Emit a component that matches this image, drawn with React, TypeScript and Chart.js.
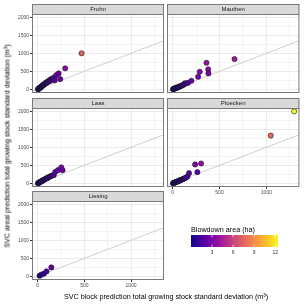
import React, { useEffect, useRef } from "react";
import { Chart, registerables } from "chart.js";

Chart.register(...registerables);

const FONT = '"Liberation Sans", Arimo, Arial, Helvetica, sans-serif';

// ---------- data (SD in m3, blowdown area in ha) ----------
const frohnBlockSD = [4, 8, 12, 15, 20, 24, 28, 32, 38, 42, 48, 52, 58, 62, 68, 72, 78, 85, 90, 95, 102, 110, 118, 125, 132, 140, 150, 158, 165, 175, 183, 200, 225, 242, 295, 470];
const frohnArealSD = [6, 18, 14, 30, 38, 50, 45, 62, 70, 85, 90, 108, 112, 130, 128, 150, 160, 165, 190, 178, 200, 215, 235, 225, 265, 250, 290, 300, 285, 330, 250, 397, 444, 286, 583, 1000];
const frohnArea = [0.1, 0.2, 0.2, 0.3, 0.3, 0.4, 0.4, 0.5, 0.5, 0.6, 0.6, 0.7, 0.7, 0.8, 0.8, 0.9, 0.9, 1.0, 1.1, 1.1, 1.2, 1.3, 1.4, 1.4, 1.6, 1.6, 1.8, 1.9, 1.9, 2.1, 2.0, 2.3, 2.6, 2.4, 3.6, 7.4];

const mauthenBlockSD = [4, 10, 15, 20, 26, 32, 38, 45, 52, 60, 68, 75, 85, 95, 108, 120, 129, 145, 165, 200, 272, 289, 379, 382, 361, 660];
const mauthenArealSD = [5, 12, 22, 18, 30, 40, 35, 50, 60, 55, 70, 85, 92, 100, 118, 135, 167, 170, 183, 239, 350, 489, 556, 444, 739, 842];
const mauthenArea = [0.1, 0.2, 0.2, 0.3, 0.3, 0.4, 0.4, 0.5, 0.6, 0.6, 0.7, 0.8, 0.9, 1.0, 1.1, 1.2, 1.4, 1.5, 1.9, 2.4, 2.8, 3.5, 3.4, 3.0, 4.0, 4.2];

const laasBlockSD = [4, 10, 15, 20, 26, 32, 38, 45, 52, 58, 65, 72, 80, 88, 95, 105, 112, 125, 135, 145, 160, 173, 190, 218, 253, 267];
const laasArealSD = [5, 12, 22, 30, 35, 48, 55, 62, 78, 85, 92, 108, 115, 128, 140, 150, 168, 175, 195, 205, 225, 229, 320, 367, 442, 367];
const laasArea = [0.1, 0.2, 0.2, 0.3, 0.3, 0.4, 0.5, 0.5, 0.6, 0.7, 0.7, 0.8, 0.9, 1.0, 1.0, 1.1, 1.2, 1.3, 1.4, 1.5, 1.6, 1.8, 2.2, 2.4, 3.2, 2.6];

const ploeckenBlockSD = [4, 10, 15, 22, 28, 35, 42, 50, 58, 65, 72, 80, 90, 100, 110, 120, 132, 145, 158, 175, 264, 240, 304, 1046, 1296];
const ploeckenArealSD = [5, 10, 20, 18, 30, 35, 45, 50, 62, 70, 75, 88, 95, 110, 118, 130, 150, 165, 190, 284, 312, 525, 552, 1326, 1997];
const ploeckenArea = [0.1, 0.2, 0.2, 0.3, 0.3, 0.4, 0.5, 0.5, 0.6, 0.7, 0.7, 0.8, 0.9, 1.0, 1.1, 1.2, 1.3, 1.5, 1.6, 1.8, 1.8, 3.3, 3.8, 7.5, 12.3];

const liesingBlockSD = [21, 40, 67, 95, 147];
const liesingArealSD = [19, 50, 75, 138, 249];
const liesingArea = [0.4, 0.6, 0.8, 1.2, 2.4];

const xTickValues = [0, 250, 500, 750, 1000, 1250];
const yTickValues = [0, 250, 500, 750, 1000, 1250, 1500, 1750, 2000];
const colorbarTicks = [3, 6, 9, 12];

const X_MIN = -60;
const X_MAX = 1352;
const Y_MIN = -100;
const Y_MAX = 2090;
const AREA_MIN = 0.02;
const AREA_MAX = 12.38;
const oneToOne = [X_MIN, X_MAX];

// ---------- layout ----------
const COL_LEFT = [32, 167];
const COL_RIGHT = [164, 300];
const ROW_TOP = [14, 108, 201];
const ROW_BOTTOM = [93, 187, 280];
const STRIP_H = 10;
const X_AXIS_H = 10;
const Y_AXIS_W = 32;
const TICK_FONT = 5;
const BORDER = "#7a7a7a";

const PLASMA = ["#0d0887", "#41049d", "#6a00a8", "#8f0da4", "#b12a90", "#cc4778", "#e16462", "#f2844b", "#fca636", "#fcce25", "#f0f921"];

function hexToRgb(h: string) {
  const n = parseInt(h.slice(1), 16);
  return [(n >> 16) & 255, (n >> 8) & 255, n & 255];
}
function plasmaAt(t: number) {
  const c = Math.max(0, Math.min(1, t)) * (PLASMA.length - 1);
  const i = Math.min(PLASMA.length - 2, Math.floor(c));
  const f = c - i;
  const a = hexToRgb(PLASMA[i]);
  const b = hexToRgb(PLASMA[i + 1]);
  const m = a.map((v, k) => Math.round(v + (b[k] - v) * f));
  return `rgb(${m[0]},${m[1]},${m[2]})`;
}
function areaColor(v: number) {
  return plasmaAt((v - AREA_MIN) / (AREA_MAX - AREA_MIN));
}

type Panel = {
  name: string;
  xs: number[];
  ys: number[];
  area: number[];
  col: number;
  row: number;
  showX: boolean;
};

const panels: Panel[] = [
  { name: "Frohn", xs: frohnBlockSD, ys: frohnArealSD, area: frohnArea, col: 0, row: 0, showX: false },
  { name: "Mauthen", xs: mauthenBlockSD, ys: mauthenArealSD, area: mauthenArea, col: 1, row: 0, showX: false },
  { name: "Laas", xs: laasBlockSD, ys: laasArealSD, area: laasArea, col: 0, row: 1, showX: false },
  { name: "Ploecken", xs: ploeckenBlockSD, ys: ploeckenArealSD, area: ploeckenArea, col: 1, row: 1, showX: true },
  { name: "Liesing", xs: liesingBlockSD, ys: liesingArealSD, area: liesingArea, col: 0, row: 2, showX: true },
];

const canvasStyle: React.CSSProperties = { position: "absolute", left: 0, top: 0, width: 304, height: 304 };

function PanelChart({ p }: { p: Panel }) {
  const ref = useRef<HTMLCanvasElement | null>(null);
  useEffect(() => {
    if (!ref.current) return;
    const showY = p.col === 0;
    const stripPlugin = {
      id: "strip" + p.name,
      afterDraw(chart: any) {
        const { ctx, chartArea: a } = chart;
        ctx.save();
        ctx.fillStyle = "#D9D9D9";
        ctx.fillRect(a.left, a.top - STRIP_H, a.right - a.left, STRIP_H);
        ctx.strokeStyle = BORDER;
        ctx.lineWidth = 1;
        ctx.strokeRect(a.left + 0.5, a.top - STRIP_H + 0.5, a.right - a.left - 1, STRIP_H);
        ctx.strokeRect(a.left + 0.5, a.top + 0.5, a.right - a.left - 1, a.bottom - a.top - 1);
        ctx.fillStyle = "#1A1A1A";
        ctx.font = `6px ${FONT}`;
        ctx.textAlign = "center";
        ctx.textBaseline = "middle";
        ctx.fillText(p.name, (a.left + a.right) / 2, a.top - STRIP_H / 2 + 0.5);
        ctx.restore();
      },
    };
    const gridColor = (c: any) => (c.tick && c.tick.value % 500 === 0 ? "#EBEBEB" : "#F4F4F4");
    const tickColor = (c: any) => (c.tick && c.tick.value % 500 === 0 ? "#333333" : "rgba(0,0,0,0)");
    const chart = new Chart(ref.current, {
      type: "scatter",
      data: {
        datasets: [
          {
            type: "line",
            data: oneToOne.map((v) => ({ x: v, y: v })),
            borderColor: "#C4C4C4",
            borderWidth: 0.8,
            pointRadius: 0,
            order: 2,
          } as any,
          {
            data: p.xs.map((x, i) => ({ x, y: p.ys[i] })),
            backgroundColor: p.area.map(areaColor),
            borderColor: "#1a1a1a",
            borderWidth: 0.6,
            pointRadius: 2.6,
            order: 1,
          },
        ],
      },
      options: {
        animation: false,
        responsive: false,
        events: [],
        layout: {
          padding: {
            left: showY ? COL_LEFT[0] - Y_AXIS_W : COL_LEFT[1],
            right: 304 - COL_RIGHT[p.col],
            top: ROW_TOP[p.row],
            bottom: 304 - ROW_BOTTOM[p.row] - (p.showX ? X_AXIS_H : 0),
          },
        },
        plugins: { legend: { display: false }, tooltip: { enabled: false }, title: { display: false } },
        scales: {
          x: {
            type: "linear",
            min: X_MIN,
            max: X_MAX,
            afterBuildTicks: (s: any) => {
              s.ticks = xTickValues.map((v) => ({ value: v }));
            },
            afterFit: (s: any) => {
              s.height = p.showX ? X_AXIS_H : 0;
              s.paddingLeft = 0;
              s.paddingRight = 0;
            },
            ticks: {
              display: p.showX,
              autoSkip: false,
              maxRotation: 0,
              padding: 1,
              color: "#4D4D4D",
              font: { family: FONT, size: TICK_FONT },
              callback: (v: any) => (Number(v) % 500 === 0 ? String(v) : ""),
            },
            grid: { color: gridColor, lineWidth: 1, drawTicks: p.showX, tickLength: 2, tickColor, tickWidth: 1 },
            border: { display: false },
          },
          y: {
            type: "linear",
            min: Y_MIN,
            max: Y_MAX,
            afterBuildTicks: (s: any) => {
              s.ticks = yTickValues.map((v) => ({ value: v }));
            },
            afterFit: (s: any) => {
              s.width = showY ? Y_AXIS_W : 0;
              s.paddingTop = 0;
              s.paddingBottom = 0;
            },
            ticks: {
              display: showY,
              autoSkip: false,
              padding: 1,
              color: "#4D4D4D",
              font: { family: FONT, size: TICK_FONT },
              callback: (v: any) => (Number(v) % 500 === 0 ? String(v) : ""),
            },
            grid: { color: gridColor, lineWidth: 1, drawTicks: showY, tickLength: 2, tickColor, tickWidth: 1 },
            border: { display: false },
          },
        },
      } as any,
      plugins: [stripPlugin],
    });
    return () => chart.destroy();
  }, [p]);
  return <canvas ref={ref} width={304} height={304} style={canvasStyle} />;
}

function ColorBar() {
  const ref = useRef<HTMLCanvasElement | null>(null);
  useEffect(() => {
    if (!ref.current) return;
    const barPlugin = {
      id: "colorbar",
      beforeDatasetsDraw(chart: any) {
        const { ctx, chartArea: a, scales } = chart;
        const g = ctx.createLinearGradient(a.left, 0, a.right, 0);
        PLASMA.forEach((c, i) => g.addColorStop(i / (PLASMA.length - 1), c));
        ctx.save();
        ctx.fillStyle = g;
        ctx.fillRect(a.left, a.top, a.right - a.left, a.bottom - a.top);
        ctx.strokeStyle = "rgba(255,255,255,0.9)";
        ctx.lineWidth = 0.8;
        const len = (a.bottom - a.top) / 5;
        colorbarTicks.forEach((v) => {
          const x = scales.x.getPixelForValue(v);
          ctx.beginPath();
          ctx.moveTo(x, a.top);
          ctx.lineTo(x, a.top + len);
          ctx.moveTo(x, a.bottom);
          ctx.lineTo(x, a.bottom - len);
          ctx.stroke();
        });
        ctx.restore();
      },
    };
    const chart = new Chart(ref.current, {
      type: "scatter",
      data: { datasets: [{ data: [] }] },
      options: {
        animation: false,
        responsive: false,
        events: [],
        layout: { padding: { left: 191, right: 304 - 278, top: 235, bottom: 304 - 247 - 10 } },
        plugins: { legend: { display: false }, tooltip: { enabled: false } },
        scales: {
          x: {
            type: "linear",
            min: AREA_MIN,
            max: AREA_MAX,
            afterBuildTicks: (s: any) => {
              s.ticks = colorbarTicks.map((v) => ({ value: v }));
            },
            afterFit: (s: any) => {
              s.height = 10;
              s.paddingLeft = 0;
              s.paddingRight = 0;
            },
            ticks: { autoSkip: false, maxRotation: 0, padding: 3, color: "#333333", font: { family: FONT, size: TICK_FONT } },
            grid: { display: false, drawTicks: false },
            border: { display: false },
          },
          y: { display: false, min: 0, max: 1 },
        },
      } as any,
      plugins: [barPlugin],
    });
    return () => chart.destroy();
  }, []);
  return <canvas ref={ref} width={304} height={304} style={canvasStyle} />;
}

export default function App() {
  return (
    <div style={{ position: "absolute", left: 0, top: 0, width: 304, height: 304, background: "#fff", fontFamily: FONT, overflow: "hidden" }}>
      {panels.map((p) => (
        <PanelChart key={p.name} p={p} />
      ))}
      <ColorBar />
      <div
        style={{
          position: "absolute",
          left: 166,
          top: 295.5,
          transform: "translate(-50%, -50%)",
          fontSize: 7.2,
          lineHeight: "9px",
          whiteSpace: "nowrap",
          color: "#000",
        }}
      >
        SVC block prediction total growing stock standard deviation (m³)
      </div>
      <div
        style={{
          position: "absolute",
          left: 7,
          top: 146,
          transform: "translate(-50%, -50%) rotate(-90deg)",
          fontSize: 7.2,
          lineHeight: "9px",
          whiteSpace: "nowrap",
          color: "#000",
        }}
      >
        SVC areal prediction total growing stock standard deviation (m³)
      </div>
      <div
        style={{
          position: "absolute",
          left: 191,
          top: 228.5,
          transform: "translateY(-50%)",
          fontSize: 7.2,
          lineHeight: "9px",
          whiteSpace: "nowrap",
          color: "#000",
        }}
      >
        Blowdown area (ha)
      </div>
    </div>
  );
}
